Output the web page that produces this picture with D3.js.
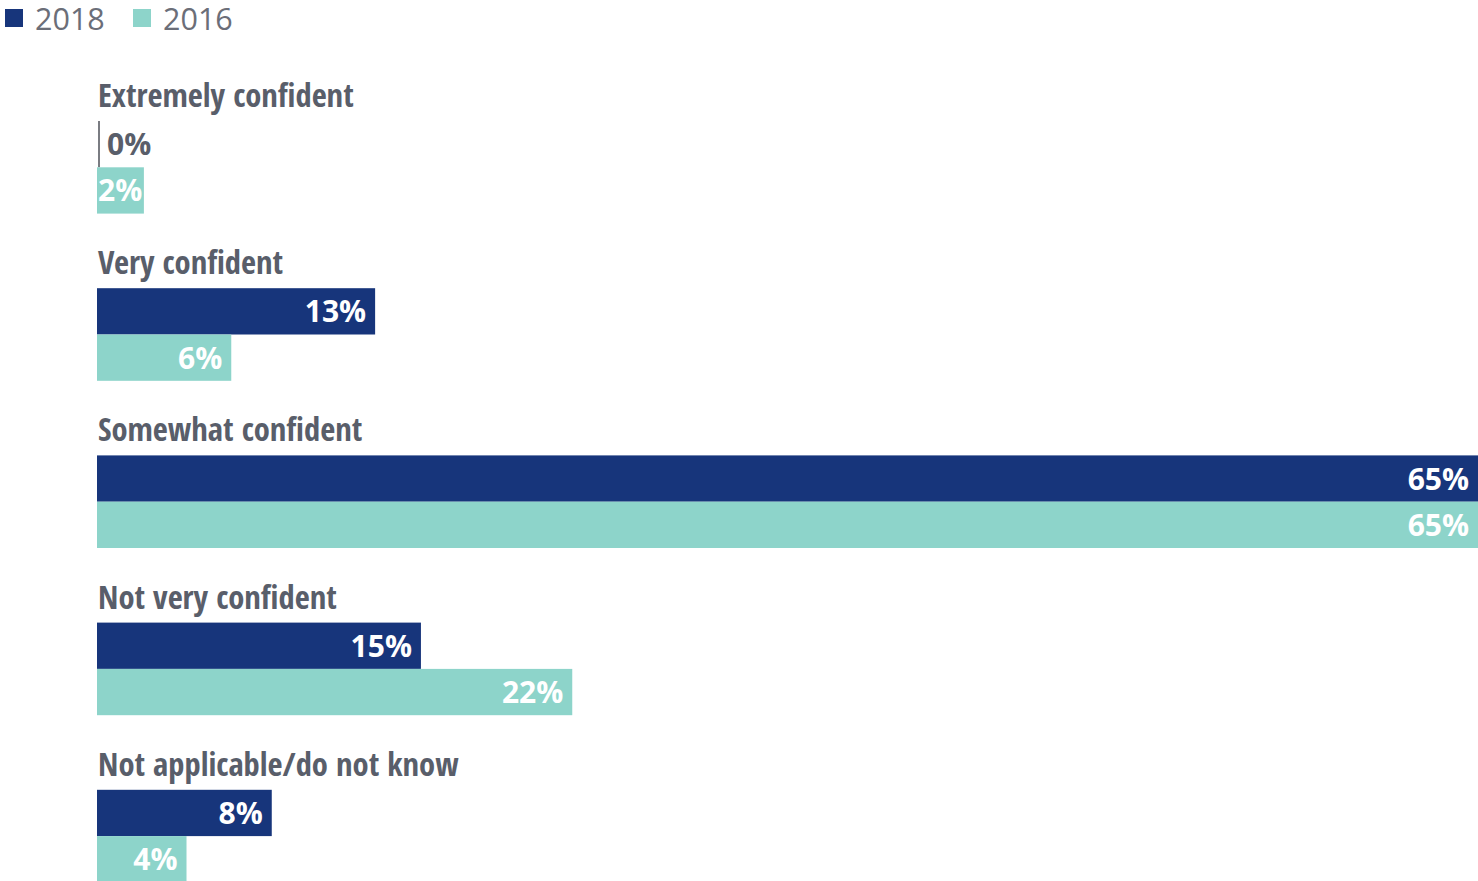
<!DOCTYPE html>
<html>
<head>
<meta charset="utf-8">
<script src="https://cdn.jsdelivr.net/npm/d3@7"></script>
<style>
    html, body { margin: 0; padding: 0; background: #fff; }
    svg { display: block; }
    .cat { font-family: "Open Sans Condensed", "Liberation Sans Narrow", "DejaVu Sans Condensed", "Open Sans", sans-serif; font-stretch: 75%; font-weight: 600; fill: #595e6a; }
    .val { font-family: "Open Sans", sans-serif; font-weight: 700; }
    .leg { font-family: "Open Sans", sans-serif; fill: #6b6e78; }
</style>
</head>
<body>
<svg id="chart"></svg>
<script>
const categories = ["Extremely confident", "Very confident", "Somewhat confident", "Not very confident", "Not applicable/do not know"];
const seriesNames = ["2018", "2016"];
const values2018 = [0, 13.05, 64.8, 15.2, 8.2];
const values2016 = [2.2, 6.3, 64.8, 22.3, 4.2];
const colors = ["#17357b", "#8dd4ca"];

(function () {
    const width = 1478, height = 881;
    const svg = d3.select("#chart")
        .attr("width", width)
        .attr("height", height);

    const left = 97;
    const x = d3.scaleLinear()
        .domain([0, 64.8])
        .range([left, width]);

    const y = d3.scaleBand()
        .domain(categories)
        .range([121 - 54, 121 - 54 + 167.2 * 5])
        .paddingInner(0)
        .paddingOuter(0);

    const sub = d3.scaleBand()
        .domain(seriesNames)
        .range([54, 54 + 46.3 * 2]);

    // legend
    const legend = svg.append("g");
    const legX = [5, 133];
    seriesNames.forEach((s, i) => {
        legend.append("rect")
            .attr("x", legX[i]).attr("y", 9)
            .attr("width", 18).attr("height", 18)
            .attr("fill", colors[i]);
        legend.append("text")
            .attr("class", "leg")
            .attr("x", legX[i] + 30).attr("y", 30)
            .attr("font-size", 30.5)
            .text(s);
    });

    const rows = categories.map((c, i) => ({
        cat: c,
        bars: [
            {series: "2018", value: values2018[i], color: colors[0]},
            {series: "2016", value: values2016[i], color: colors[1]}
        ]
    }));

    const group = svg.selectAll("g.row")
        .data(rows)
        .enter()
        .append("g")
        .attr("class", "row")
        .attr("transform", d => `translate(0,${y(d.cat)})`);

    group.append("text")
        .attr("class", "cat")
        .attr("x", left + 1)
        .attr("y", 40)
        .attr("font-size", 32.6)
        .text(d => d.cat);

    const bar = group.selectAll("g.bar")
        .data(d => d.bars)
        .enter()
        .append("g")
        .attr("class", "bar")
        .attr("transform", d => `translate(0,${sub(d.series)})`);

    bar.append("rect")
        .attr("x", d => d.value > 0 ? left : left + 1)
        .attr("width", d => d.value > 0 ? x(d.value) - left : 2)
        .attr("height", sub.bandwidth())
        .attr("fill", d => d.value > 0 ? d.color : "#7a7c82");

    // labels: inside at the end, except a zero bar (outside) and a tiny bar (start-aligned)
    const small = d => d.value > 0 && x(d.value) - left < 60;
    bar.append("text")
        .attr("class", "val")
        .attr("x", d => d.value === 0 ? left + 10 : small(d) ? left + 1 : x(d.value) - 9)
        .attr("y", sub.bandwidth() / 2 + 11)
        .attr("text-anchor", d => d.value > 0 && !small(d) ? "end" : "start")
        .attr("font-size", 30)
        .attr("fill", d => d.value > 0 ? "#fff" : "#595e6a")
        .text(d => Math.round(d.value) + "%");
})();
</script>
</body>
</html>
